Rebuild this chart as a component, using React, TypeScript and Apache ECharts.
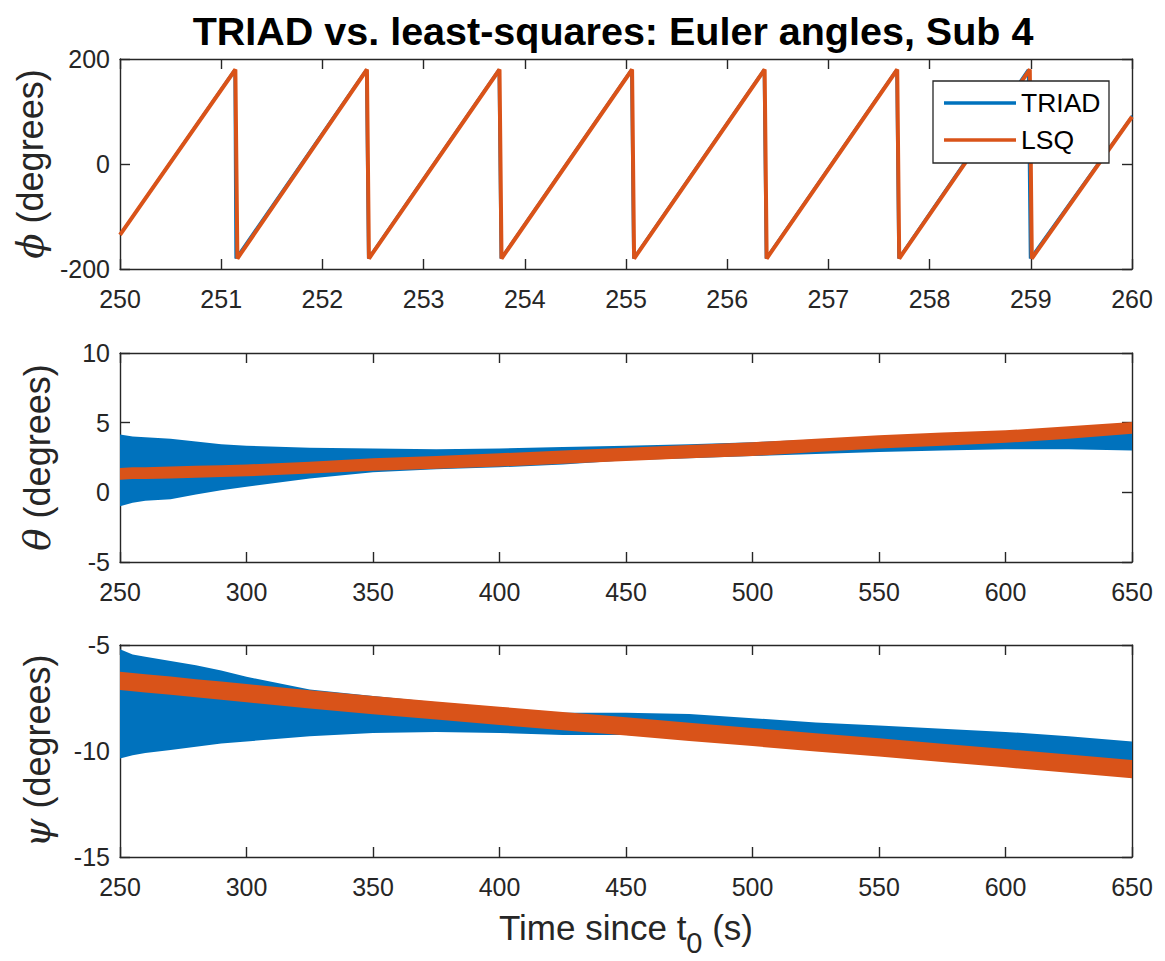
import React, { useEffect, useRef } from 'react';
import * as echarts from 'echarts';

const FONT = '"Liberation Sans", Arial, Helvetica, sans-serif';
const AXIS_COLOR = '#262626';
const BLUE = '#0072BD';
const ORANGE = '#D95319';

// ---- phi (top panel): sawtooth wrap points ----
const phiTriadT = [250, 251.13, 251.14, 252.43, 252.45, 253.74, 253.76, 255.05, 255.07, 256.36, 256.38, 257.67, 257.69, 258.97, 258.99, 260];
const phiTriadV = [-134, 180, -180, 180, -180, 180, -180, 180, -180, 180, -180, 180, -180, 180, -180, 92];
const phiLsqT = [250, 251.14, 251.16, 252.44, 252.46, 253.75, 253.77, 255.06, 255.08, 256.37, 256.39, 257.68, 257.7, 258.99, 259.01, 260];
const phiLsqV = [-135, 180, -180, 180, -180, 180, -180, 180, -180, 180, -180, 180, -180, 180, -180, 90];

// ---- envelope sample times for theta / psi ----
const envT = [250, 255, 260, 270, 280, 290, 300, 325, 350, 375, 400, 425, 450, 475, 500, 525, 550, 575, 600, 625, 650];

// theta (middle panel)
const thetaTriadLo = [-1.0, -0.75, -0.6, -0.5, -0.15, 0.15, 0.4, 1.0, 1.45, 1.65, 1.8, 2.0, 2.3, 2.45, 2.6, 2.75, 2.9, 3.0, 3.1, 3.1, 3.0];
const thetaTriadHi = [4.15, 4.0, 3.95, 3.85, 3.65, 3.45, 3.35, 3.2, 3.15, 3.1, 3.15, 3.25, 3.35, 3.45, 3.6, 3.8, 4.0, 4.15, 4.3, 4.4, 4.4];
const thetaLsqLo = [0.9, 0.95, 0.95, 1.0, 1.05, 1.1, 1.15, 1.35, 1.55, 1.7, 1.85, 2.05, 2.25, 2.45, 2.6, 2.9, 3.15, 3.35, 3.55, 3.85, 4.2];
const thetaLsqHi = [1.75, 1.8, 1.8, 1.85, 1.9, 1.95, 2.0, 2.2, 2.45, 2.6, 2.8, 3.0, 3.2, 3.4, 3.6, 3.85, 4.1, 4.3, 4.45, 4.75, 5.05];

// psi (bottom panel)
const psiTriadLo = [-10.35, -10.2, -10.1, -9.95, -9.8, -9.65, -9.55, -9.3, -9.15, -9.1, -9.15, -9.25, -9.25, -9.4, -9.6, -9.8, -10.0, -10.1, -10.25, -10.4, -10.5];
const psiTriadHi = [-5.2, -5.45, -5.55, -5.75, -5.95, -6.2, -6.5, -7.1, -7.4, -7.7, -7.95, -8.2, -8.2, -8.25, -8.45, -8.65, -8.8, -8.95, -9.1, -9.3, -9.55];
const psiLsqLo = [-7.12, -7.18, -7.24, -7.35, -7.47, -7.58, -7.7, -7.99, -8.27, -8.52, -8.77, -9.02, -9.27, -9.53, -9.77, -10.02, -10.26, -10.52, -10.77, -11.03, -11.28];
const psiLsqHi = [-6.26, -6.32, -6.38, -6.49, -6.61, -6.72, -6.84, -7.13, -7.41, -7.66, -7.91, -8.16, -8.41, -8.67, -8.91, -9.16, -9.4, -9.66, -9.91, -10.17, -10.42];

// ---- axis tick settings ----
const phiXTicks = { min: 250, max: 260, interval: 1 };
const longXTicks = { min: 250, max: 650, interval: 50 };
const phiYTicks = { min: -200, max: 200, interval: 200 };
const thetaYTicks = { min: -5, max: 10, interval: 5 };
const psiYTicks = { min: -15, max: -5, interval: 5 };

const zip = (a: number[], b: number[]) => a.map((v, i) => [v, b[i]]);

function bandSeries(xi: number, yi: number, times: number[], lo: number[], hi: number[], color: string, z: number) {
  return {
    type: 'custom',
    xAxisIndex: xi,
    yAxisIndex: yi,
    z,
    clip: true,
    data: times.map((t, i) => [t, lo[i], hi[i]]),
    encode: { x: 0, y: [1, 2] },
    renderItem: (params: any, api: any) => {
      if (params.dataIndex !== 0) return null;
      const pts: number[][] = [];
      for (let i = 0; i < times.length; i++) pts.push(api.coord([times[i], hi[i]]));
      for (let i = times.length - 1; i >= 0; i--) pts.push(api.coord([times[i], lo[i]]));
      return { type: 'polygon', shape: { points: pts }, style: { fill: color } };
    },
  };
}

function xAxisPair(gridIndex: number, ticks: any, showName: boolean) {
  const base = {
    type: 'value',
    gridIndex,
    ...ticks,
    splitLine: { show: false },
    axisLine: { show: true, onZero: false, lineStyle: { color: AXIS_COLOR, width: 1.4 } },
    axisTick: { show: true, inside: true, length: 10, lineStyle: { color: AXIS_COLOR, width: 1.4 } },
  };
  const main: any = {
    ...base,
    position: 'bottom',
    axisLabel: { show: true, color: AXIS_COLOR, fontSize: 25, fontFamily: FONT, margin: 17 },
  };
  if (showName) {
    main.name = '{a|Time since t}{s|0}{a| (s)}';
    main.nameLocation = 'middle';
    main.nameGap = 53;
    main.nameTextStyle = {
      rich: {
        a: { fontSize: 35, fontFamily: FONT, color: AXIS_COLOR, lineHeight: 40, verticalAlign: 'top' },
        s: { fontSize: 29, fontFamily: FONT, color: AXIS_COLOR, lineHeight: 29, verticalAlign: 'top', padding: [18, 0, 0, 0] },
      },
    };
  }
  const top = { ...base, position: 'top', axisLabel: { show: false } };
  return [main, top];
}

function yAxisPair(gridIndex: number, ticks: any, greek: string) {
  const base = {
    type: 'value',
    gridIndex,
    ...ticks,
    splitLine: { show: false },
    axisLine: { show: true, onZero: false, lineStyle: { color: AXIS_COLOR, width: 1.4 } },
    axisTick: { show: true, inside: true, length: 10, lineStyle: { color: AXIS_COLOR, width: 1.4 } },
  };
  const main = {
    ...base,
    position: 'left',
    axisLabel: { show: true, color: AXIS_COLOR, fontSize: 25, fontFamily: FONT, margin: 10 },
    name: `{g|${greek}}{t| (degrees)}`,
    nameLocation: 'middle',
    nameGap: 64,
    nameTextStyle: {
      rich: {
        g: { fontSize: 37, fontFamily: '"DejaVu Serif", serif', fontStyle: 'italic', color: AXIS_COLOR },
        t: { fontSize: 36, fontFamily: FONT, color: AXIS_COLOR },
      },
    },
  };
  const right = { ...base, position: 'right', axisLabel: { show: false } };
  return [main, right];
}

export default function App() {
  const ref = useRef<HTMLDivElement>(null);

  useEffect(() => {
    document.body.style.margin = '0';
    if (!ref.current) return;
    const chart = echarts.init(ref.current, undefined, { renderer: 'svg' });

    const option: any = {
      animation: false,
      backgroundColor: '#ffffff',
      title: {
        text: 'TRIAD vs. least-squares: Euler angles, Sub 4',
        left: 608,
        top: 6,
        textAlign: 'center',
        textStyle: { fontSize: 39.5, fontWeight: 'bold', fontFamily: FONT, color: '#000' },
      },
      grid: [
        { left: 120, top: 59, width: 1012, height: 210 },
        { left: 120, top: 353, width: 1012, height: 209 },
        { left: 120, top: 645, width: 1012, height: 212 },
      ],
      xAxis: [
        ...xAxisPair(0, phiXTicks, false),
        ...xAxisPair(1, longXTicks, false),
        ...xAxisPair(2, longXTicks, true),
      ],
      yAxis: [
        ...yAxisPair(0, phiYTicks, 'ϕ'),
        ...yAxisPair(1, thetaYTicks, 'θ'),
        ...yAxisPair(2, psiYTicks, 'ψ'),
      ],
      series: [
        {
          name: 'TRIAD', type: 'line', xAxisIndex: 0, yAxisIndex: 0, z: 2,
          data: zip(phiTriadT, phiTriadV), showSymbol: false, symbol: 'none',
          lineStyle: { color: BLUE, width: 2 }, clip: true,
        },
        {
          name: 'LSQ', type: 'line', xAxisIndex: 0, yAxisIndex: 0, z: 3,
          data: zip(phiLsqT, phiLsqV), showSymbol: false, symbol: 'none',
          lineStyle: { color: ORANGE, width: 4 }, clip: true,
        },
        bandSeries(2, 2, envT, thetaTriadLo, thetaTriadHi, BLUE, 2),
        bandSeries(2, 2, envT, thetaLsqLo, thetaLsqHi, ORANGE, 3),
        bandSeries(4, 4, envT, psiTriadLo, psiTriadHi, BLUE, 2),
        bandSeries(4, 4, envT, psiLsqLo, psiLsqHi, ORANGE, 3),
      ],
      graphic: [
        {
          type: 'rect', z: 100,
          shape: { x: 933, y: 81, width: 176, height: 82 },
          style: { fill: '#ffffff', stroke: AXIS_COLOR, lineWidth: 1.3 },
        },
        {
          type: 'line', z: 101,
          shape: { x1: 944, y1: 103, x2: 1016, y2: 103 },
          style: { stroke: BLUE, lineWidth: 3.5 },
        },
        {
          type: 'line', z: 101,
          shape: { x1: 944, y1: 140, x2: 1016, y2: 140 },
          style: { stroke: ORANGE, lineWidth: 3.5 },
        },
        {
          type: 'text', z: 101, x: 1021, y: 103,
          style: { text: 'TRIAD', fontSize: 26.5, fontFamily: FONT, fill: '#000', verticalAlign: 'middle', align: 'left' },
        },
        {
          type: 'text', z: 101, x: 1021, y: 140,
          style: { text: 'LSQ', fontSize: 26.5, fontFamily: FONT, fill: '#000', verticalAlign: 'middle', align: 'left' },
        },
      ],
    };

    chart.setOption(option);
    return () => chart.dispose();
  }, []);

  return <div ref={ref} style={{ width: 1165, height: 961 }} />;
}
